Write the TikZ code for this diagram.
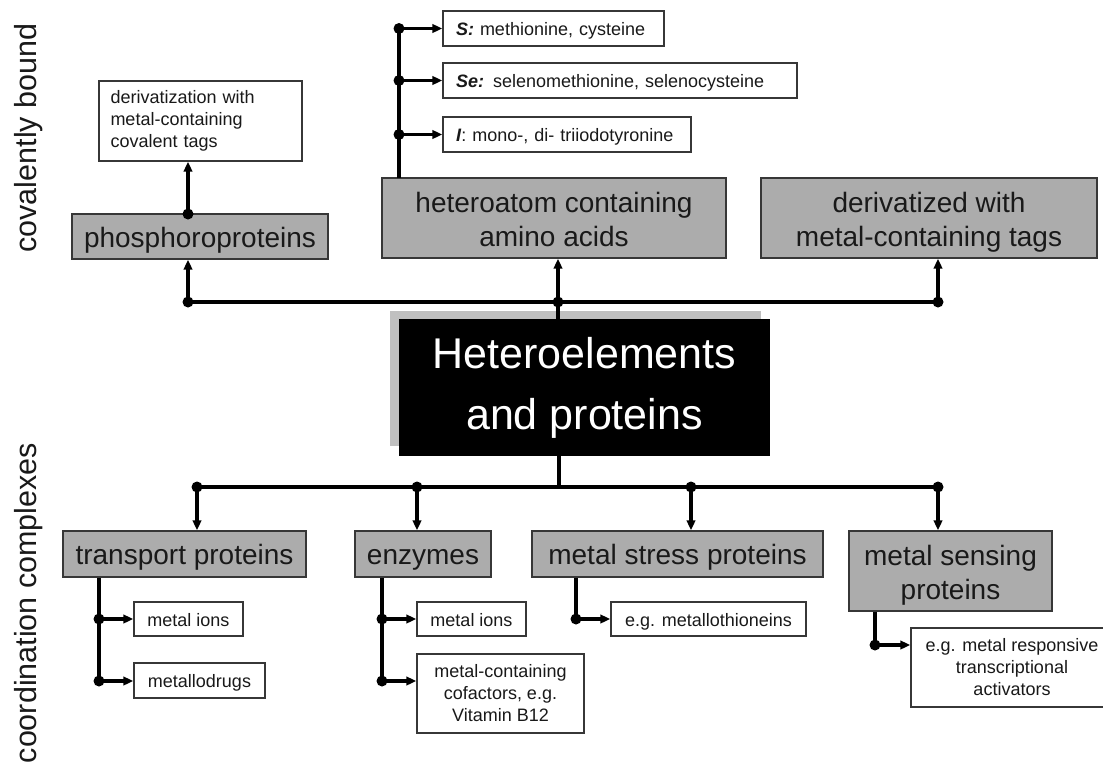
\documentclass[tikz,border=0pt]{standalone}
\usepackage{fontspec}
\setmainfont{Liberation Sans}
\usetikzlibrary{arrows.meta}
\definecolor{boxgray}{RGB}{172,172,172}
\definecolor{shadowgray}{RGB}{192,192,192}
\definecolor{edge}{RGB}{55,55,55}
\definecolor{ink}{RGB}{25,25,25}
\newcommand{\topstrut}{\rule{0pt}{28pt}}
\begin{document}
\begin{tikzpicture}[x=1pt,y=-1pt,
  graybox/.style={draw=edge,line width=1.4pt,fill=boxgray,inner sep=0pt,align=center,text=ink,font=\fontsize{28}{34}\selectfont},
  grayone/.style={graybox,text height=27pt,text depth=6pt},
  whitebox/.style={draw=edge,line width=1.4pt,fill=white,inner sep=0pt,align=center,text=ink,font=\fontsize{18}{22}\selectfont},
  whiteone/.style={whitebox,text height=18pt,text depth=4pt},
  leftone/.style={whiteone,align=left,minimum width=#1,text width=#1-26pt},
  conn/.style={line width=3.2pt,draw=black},
  arr/.style={conn,-{Triangle[length=10pt,width=8.5pt]}},
  dot/.style={circle,fill=black,inner sep=0pt,minimum size=11pt},
  side/.style={rotate=90,anchor=base,font=\fontsize{30.5}{36}\selectfont,text=ink}]
\path[use as bounding box] (0,0) rectangle (1103,766);
\clip (0,0) rectangle (1103,766);

% side labels
\node[side] (cov) at (36,138) {covalently bound};
\node[side] (coord) at (36,603) {coordination complexes};

% upper boxes
\node[whitebox,minimum width=203pt,minimum height=80pt,text width=180pt,align=left] (deriv) at (200.5,121) {derivatization with\\metal-containing\\covalent tags};
\node[grayone,minimum width=256pt,minimum height=45pt] (phospho) at (200,236.5) {phosphoroproteins};
\node[graybox,minimum width=344pt,minimum height=80pt] (hetero) at (554,218) {\topstrut heteroatom containing\\amino acids\vphantom{g}};
\node[graybox,minimum width=336pt,minimum height=80pt] (dtag) at (929,218) {\topstrut derivatized with\\metal-containing tags};
\node[leftone=221pt,minimum height=35pt] (sbox) at (553.5,28.5) {\textbf{\textit{S:}} methionine, cysteine};
\node[leftone=354pt,minimum height=35pt] (sebox) at (620,80.5) {\textbf{\textit{Se:}} selenomethionine, selenocysteine};
\node[leftone=248pt,minimum height=35pt] (ibox) at (567,134.5) {\textbf{\textit{I}}: mono-, di- triiodotyronine};

% central box
\fill[shadowgray] (390,311) rectangle (761,446);
\coordinate (b1) at (188,302);
\coordinate (b2) at (558,302);
\coordinate (b3) at (938,302);
\coordinate (c1) at (197,487);
\coordinate (c2) at (417,487);
\coordinate (cm) at (559,487);
\coordinate (c3) at (691,487);
\coordinate (c4) at (938,487);
\draw[conn] (b2) -- (558,325);
\node[fill=black,inner sep=0pt,minimum width=371pt,minimum height=137pt,text=white,align=center,font=\fontsize{43}{61}\selectfont] (main) at (584.5,387.5) {Heteroelements\\and proteins};

% lower boxes
\node[grayone,minimum width=243pt,minimum height=46pt] (trans) at (184.5,554) {transport proteins};
\node[grayone,minimum width=136pt,minimum height=46pt] (enz) at (423,554) {enzymes};
\node[grayone,minimum width=291pt,minimum height=46pt] (stress) at (677.5,554) {metal stress proteins};
\node[graybox,minimum width=203pt,minimum height=80pt] (sens) at (950.5,571) {\topstrut metal sensing\\proteins};
\node[whiteone,minimum width=109pt,minimum height=34pt] (mi1) at (188.5,619) {metal ions};
\node[whiteone,minimum width=131pt,minimum height=35pt] (drugs) at (199.5,680.5) {metallodrugs};
\node[whiteone,minimum width=109pt,minimum height=34pt] (mi2) at (471.5,619) {metal ions};
\node[whitebox,minimum width=167pt,minimum height=79pt] (cof) at (500.5,693.5) {metal-containing\\cofactors, e.g.\\Vitamin B12};
\node[whiteone,minimum width=195pt,minimum height=34pt] (mt) at (708.5,619) {e.g. metallothioneins};
\node[whitebox,minimum width=202pt,minimum height=79pt] (resp) at (1012,667.5) {e.g. metal responsive\\transcriptional\\activators};

% upper connectors
\draw[conn] (b1) -- (b3);
\draw[arr] (b1) -- (b1 |- phospho.south);
\draw[arr] (b2) -- (b2 |- hetero.south);
\draw[arr] (b3) -- (b3 |- dtag.south);
\node[dot] (db1) at (b1) {};
\node[dot] (db2) at (b2) {};
\node[dot] (db3) at (b3) {};
\coordinate (p1) at (188,214);
\draw[arr] (p1) -- (p1 |- deriv.south);
\node[dot] (dp1) at (p1) {};
\coordinate (h0) at (399,178);
\coordinate (h1) at (399,28.5);
\coordinate (h2) at (399,80.5);
\coordinate (h3) at (399,134.5);
\draw[conn] (h0) -- ([yshift=-1.5pt]h1);
\draw[arr] (h1) -- (sbox.west);
\draw[arr] (h2) -- (sebox.west);
\draw[arr] (h3) -- (ibox.west);
\node[dot] (dh1) at (h1) {};
\node[dot] (dh2) at (h2) {};
\node[dot] (dh3) at (h3) {};

% lower connectors
\draw[conn] (main.south -| cm) -- (cm);
\draw[conn] (c1) -- (c4);
\draw[arr] (c1) -- (c1 |- trans.north);
\draw[arr] (c2) -- (c2 |- enz.north);
\draw[arr] (c3) -- (c3 |- stress.north);
\draw[arr] (c4) -- (c4 |- sens.north);
\node[dot] (dc1) at (c1) {};
\node[dot] (dc2) at (c2) {};
\node[dot] (dc3) at (c3) {};
\node[dot] (dc4) at (c4) {};

\coordinate (t1) at (99,619);
\coordinate (t2) at (99,681);
\draw[conn] (trans.south -| t1) -- ([yshift=1.5pt]t2);
\draw[arr] (t1) -- (mi1.west);
\draw[arr] (t2) -- (t2 -| drugs.west);
\node[dot] (dt1) at (t1) {};
\node[dot] (dt2) at (t2) {};

\coordinate (e1) at (382,619);
\coordinate (e2) at (382,681);
\draw[conn] (enz.south -| e1) -- ([yshift=1.5pt]e2);
\draw[arr] (e1) -- (mi2.west);
\draw[arr] (e2) -- (e2 -| cof.west);
\node[dot] (de1) at (e1) {};
\node[dot] (de2) at (e2) {};

\coordinate (s1) at (576,619);
\draw[conn] (stress.south -| s1) -- ([yshift=1.5pt]s1);
\draw[arr] (s1) -- (mt.west);
\node[dot] (ds1) at (s1) {};

\coordinate (m1) at (875,645);
\draw[conn] (sens.south -| m1) -- ([yshift=1.5pt]m1);
\draw[arr] (m1) -- (m1 -| resp.west);
\node[dot] (dm1) at (m1) {};
\end{tikzpicture}
\end{document}
